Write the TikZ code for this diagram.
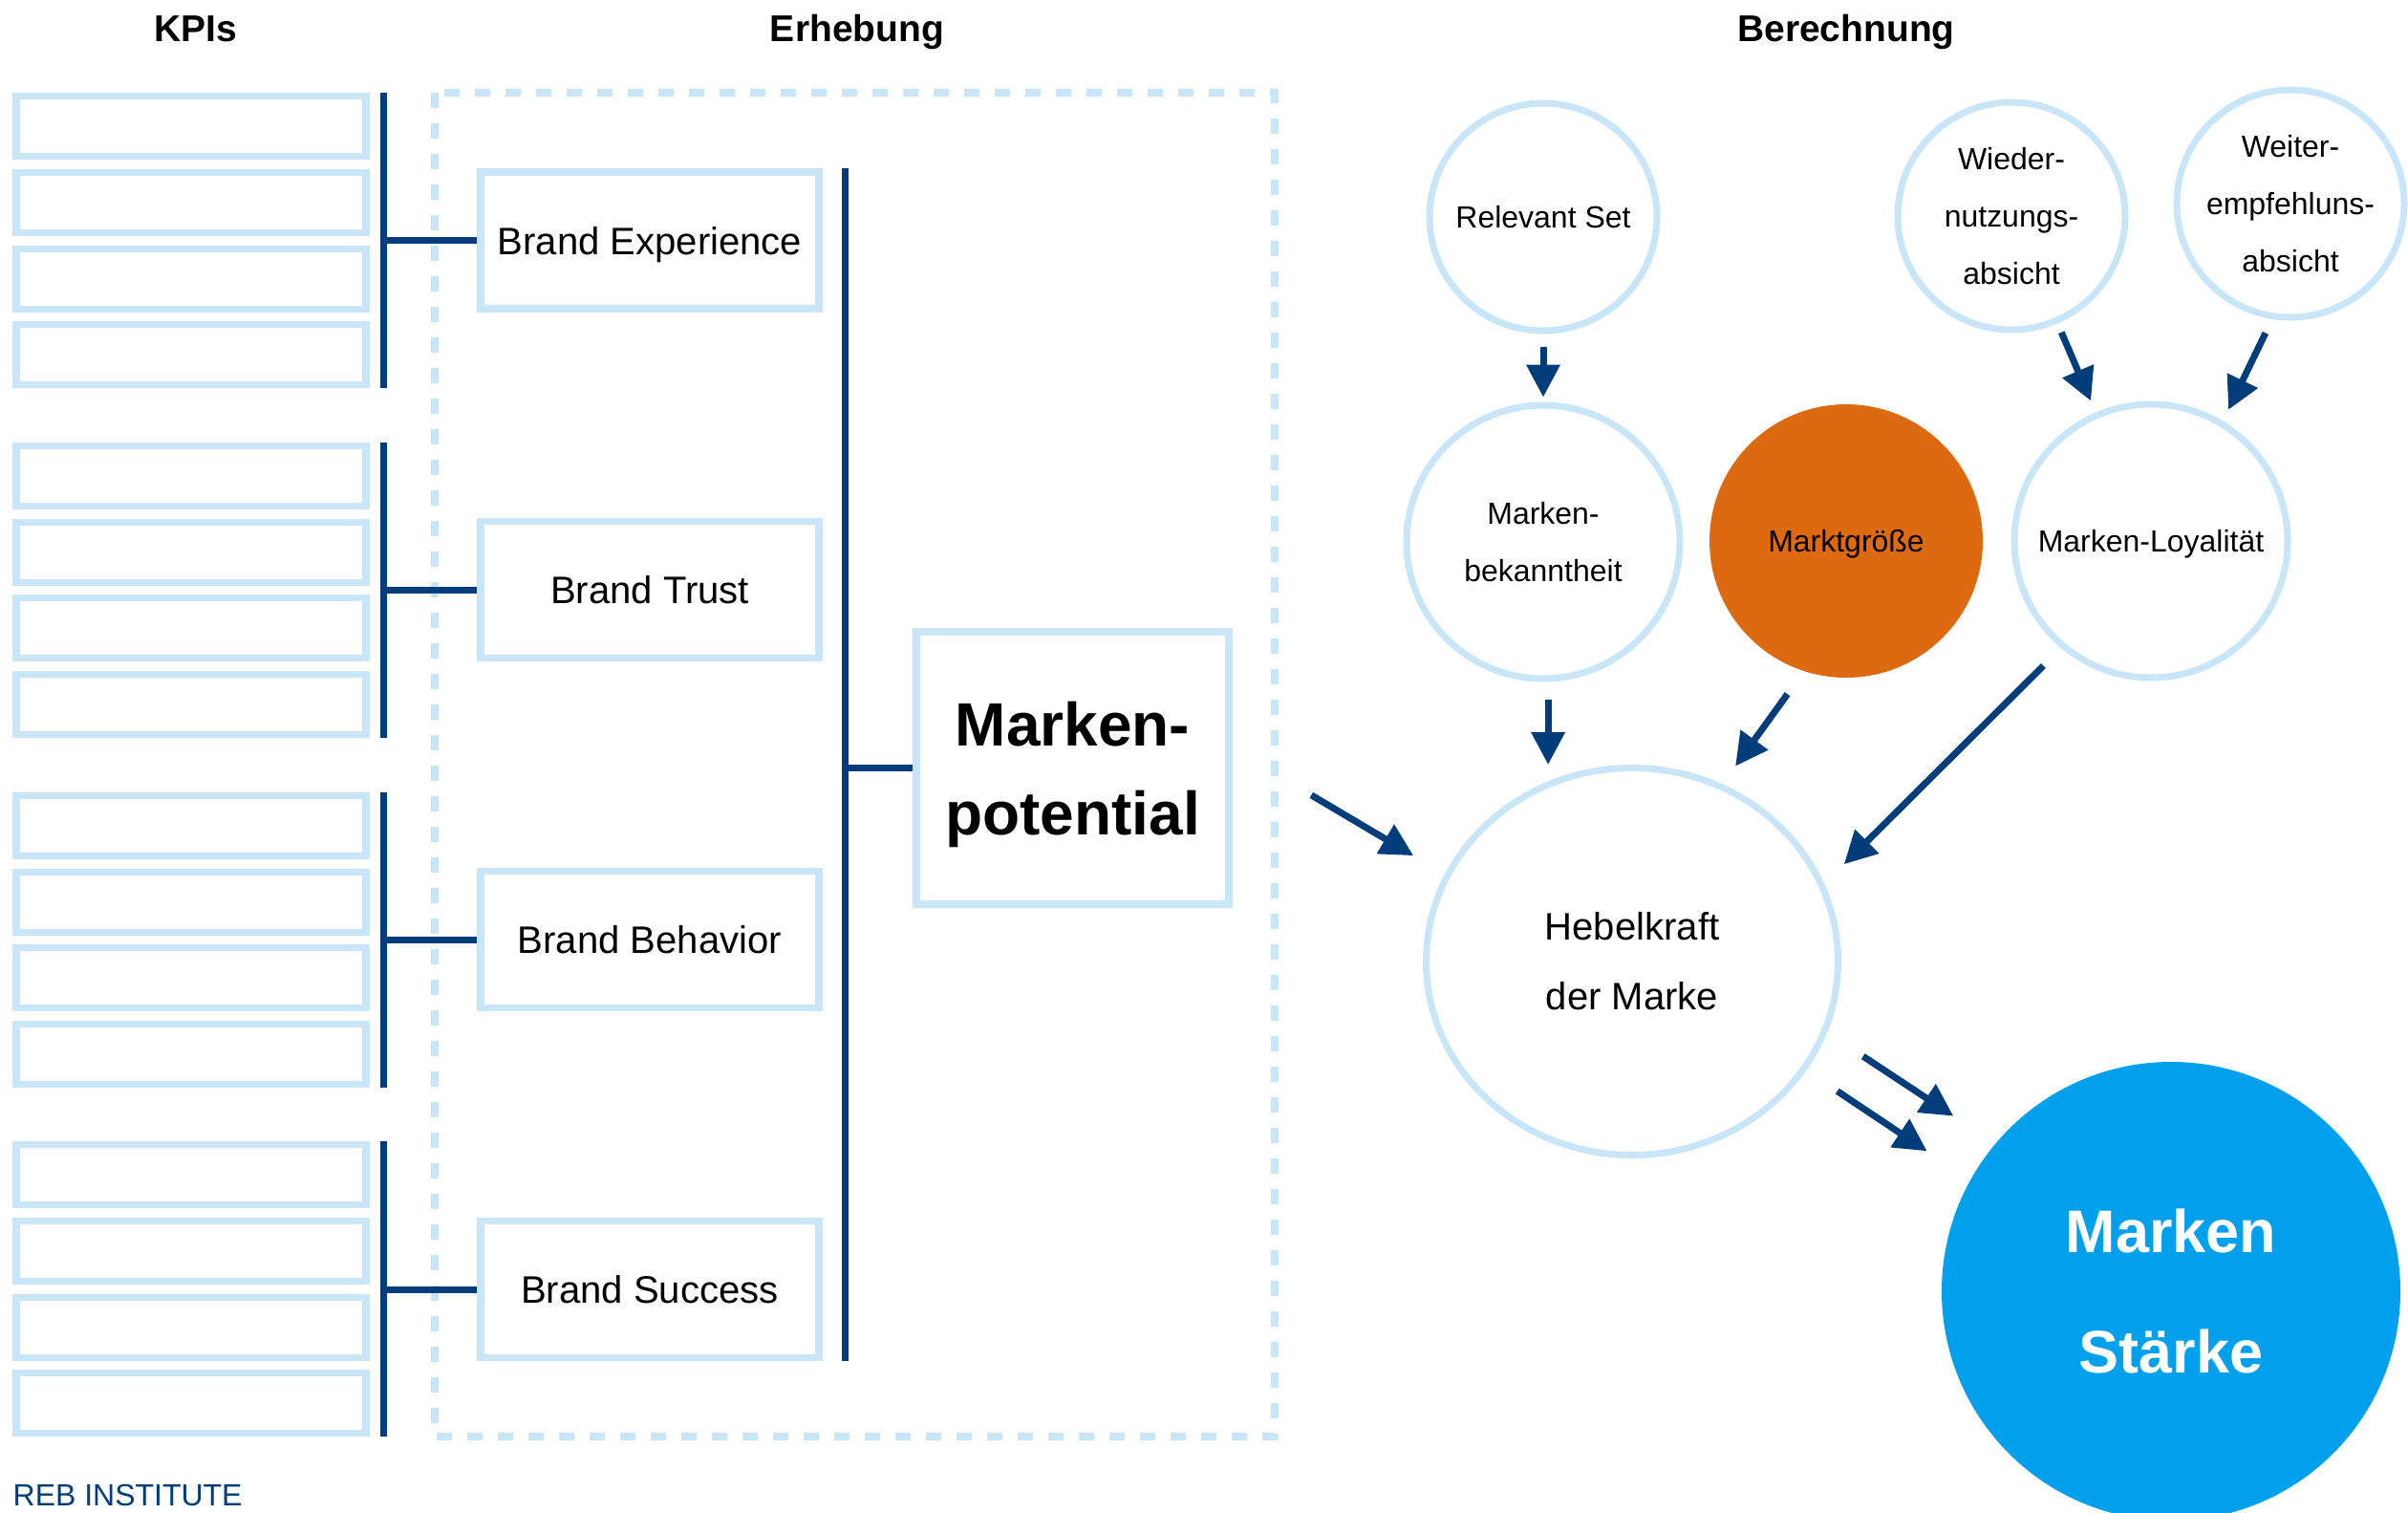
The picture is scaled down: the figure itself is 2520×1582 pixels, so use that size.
\documentclass[tikz,border=0pt]{standalone}
\usepackage{fontspec}
\setmainfont{Liberation Sans}
\usepackage{xcolor}
\definecolor{darkblue}{RGB}{0,61,122}
\definecolor{lightblue}{RGB}{200,230,248}
\definecolor{sizeorange}{RGB}{221,106,17}
\definecolor{strengthblue}{RGB}{0,160,236}
\usetikzlibrary{arrows.meta}
\usetikzlibrary{shapes.geometric}

\begin{document}
\begin{tikzpicture}[x=0.1mm, y=-0.1mm,
  paths/.style={->, line width=0.7mm, draw=darkblue, >={Triangle[length=3.4mm, width=3.4mm]}},
  bar/.style={line width=0.7mm, draw=darkblue},
  kpi/.style={draw=lightblue, line width=0.75mm, minimum width=36.6mm, minimum height=6.3mm, inner sep=0},
  brand/.style={draw=lightblue, line width=0.75mm, minimum width=35.4mm, minimum height=14.3mm, inner sep=0, text depth=0pt, font=\fontsize{11.4}{13.7}\selectfont},
  factor/.style={circle, draw=lightblue, line width=0.7mm, minimum size=23.8mm, inner sep=0, align=center, text depth=0pt, font=\fontsize{9.1}{17.1}\selectfont},
  bigfactor/.style={factor, minimum size=28.6mm},
  title/.style={anchor=base, inner sep=0, font=\fontsize{11.1}{13.3}\selectfont\bfseries},
  frame/.style={draw=lightblue, line width=0.8mm, dash pattern=on 1.6mm off 1.6mm}]

 \useasboundingbox (0,0) rectangle (2520,1582);

 \node [title] (kpis) at (205,43)
     {KPIs};

 \node [title] (erhebung) at (897,43)
     {Erhebung};

 \node [title] (berechnung) at (1932,43)
     {Berechnung};

 \draw [frame] (455,97) rectangle (1334,1503);


 \node [kpi] (kpi_1_1) at (200,132) {};
 \node [kpi] (kpi_1_2) at (200,212) {};
 \node [kpi] (kpi_1_3) at (200,292) {};
 \node [kpi] (kpi_1_4) at (200,371) {};

 \node [kpi] (kpi_2_1) at (200,498) {};
 \node [kpi] (kpi_2_2) at (200,578) {};
 \node [kpi] (kpi_2_3) at (200,657) {};
 \node [kpi] (kpi_2_4) at (200,737) {};

 \node [kpi] (kpi_3_1) at (200,864) {};
 \node [kpi] (kpi_3_2) at (200,944) {};
 \node [kpi] (kpi_3_3) at (200,1023) {};
 \node [kpi] (kpi_3_4) at (200,1103) {};

 \node [kpi] (kpi_4_1) at (200,1229) {};
 \node [kpi] (kpi_4_2) at (200,1309) {};
 \node [kpi] (kpi_4_3) at (200,1389) {};
 \node [kpi] (kpi_4_4) at (200,1468) {};


 \node [brand] (brand_exp) at (680,251.5)
     {Brand Experience};

 \node [brand] (brand_trust) at (680,617)
     {Brand Trust};

 \node [brand] (brand_behav) at (680,983)
     {Brand Behavior};

 \node [brand] (brand_succ) at (680,1349)
     {Brand Success};

 \node [draw=lightblue, line width=0.75mm, minimum width=32.7mm, minimum height=28.5mm, inner sep=0, align=center, text depth=0pt,
        font=\fontsize{18.2}{26.5}\selectfont\bfseries] (potential) at (1122.5,803.5)
     {Marken-\\potential};


 \draw [bar] ([xshift=1.5mm]kpi_1_1.north east) to ([xshift=1.5mm]kpi_1_4.south east);
 \draw [bar] ([xshift=1.5mm]kpi_2_1.north east) to ([xshift=1.5mm]kpi_2_4.south east);
 \draw [bar] ([xshift=1.5mm]kpi_3_1.north east) to ([xshift=1.5mm]kpi_3_4.south east);
 \draw [bar] ([xshift=1.5mm]kpi_4_1.north east) to ([xshift=1.5mm]kpi_4_4.south east);

 \draw [bar, shorten >=1.5mm] (brand_exp.west) to (brand_exp.west -| kpi_1_1.east);
 \draw [bar, shorten >=1.5mm] (brand_trust.west) to (brand_trust.west -| kpi_2_1.east);
 \draw [bar, shorten >=1.5mm] (brand_behav.west) to (brand_behav.west -| kpi_3_1.east);
 \draw [bar, shorten >=1.5mm] (brand_succ.west) to (brand_succ.west -| kpi_4_1.east);

 \draw [bar] ([xshift=2.4mm]brand_exp.north east) to ([xshift=2.4mm]brand_succ.south east);
 \draw [bar, shorten >=2.4mm] (potential.west) to (potential.west -| brand_exp.east);


 \node [factor] (relset) at (1615,227)
     {Relevant Set};

 \node [factor] (wieder) at (2105,226)
     {Wieder-\\nutzungs-\\absicht};

 \node [factor] (weiter) at (2397,213)
     {Weiter-\\empfehluns-\\absicht};

 \node [bigfactor] (bekannt) at (1615,567)
     {Marken-\\bekanntheit};

 \node [circle, fill=sizeorange, minimum size=28.6mm, inner sep=0, text depth=0pt,
        font=\fontsize{9.1}{17.1}\selectfont] (markt) at (1932,566)
     {Marktgröße};

 \node [bigfactor] (loyal) at (2251,566)
     {Marken-Loyalität};

 \node [ellipse, draw=lightblue, line width=0.7mm, minimum width=43.1mm, minimum height=40.5mm, inner sep=0, align=center,
        font=\fontsize{11.4}{20.8}\selectfont] (hebel) at (1708,1006)
     {Hebelkraft\\der Marke};

 \node [circle, fill=strengthblue, minimum size=48mm, inner sep=0, align=center, text=white,
        font=\fontsize{17.9}{35.6}\selectfont\bfseries] (staerke) at (2272,1351)
     {Marken\\Stärke};


 \draw [paths, shorten <=1.3mm, shorten >=0.5mm] (relset) to (bekannt);
 \draw [paths, shorten <=1mm, shorten >=1.3mm] (wieder) to (loyal);
 \draw [paths, shorten <=1.6mm, shorten >=1.3mm] (weiter.261) to (loyal.59);
 \draw [paths, shorten <=1.9mm] (bekannt.272) to (bekannt.272 |- hebel.north);
 \draw [paths, shorten <=2.9mm, shorten >=2.3mm] (markt.252) to (hebel.63);
 \draw [paths, shorten <=2.6mm, shorten >=2.9mm] (loyal.230) to (hebel.22);
 \draw [paths, shorten <=9.6mm, shorten >=3.8mm] (potential.7) to (hebel.155);
 \draw [paths, shorten <=4.5mm, shorten >=5.2mm] (hebel.340) to (staerke.140);
 \draw [paths, shorten <=3.9mm, shorten >=5.4mm] (hebel.328) to (staerke.151);


 \node [anchor=base west, inner sep=0, text=darkblue, font=\fontsize{9.1}{11}\selectfont] (reb) at (13,1575)
     {REB INSTITUTE};

 \end{tikzpicture}
\end{document}
